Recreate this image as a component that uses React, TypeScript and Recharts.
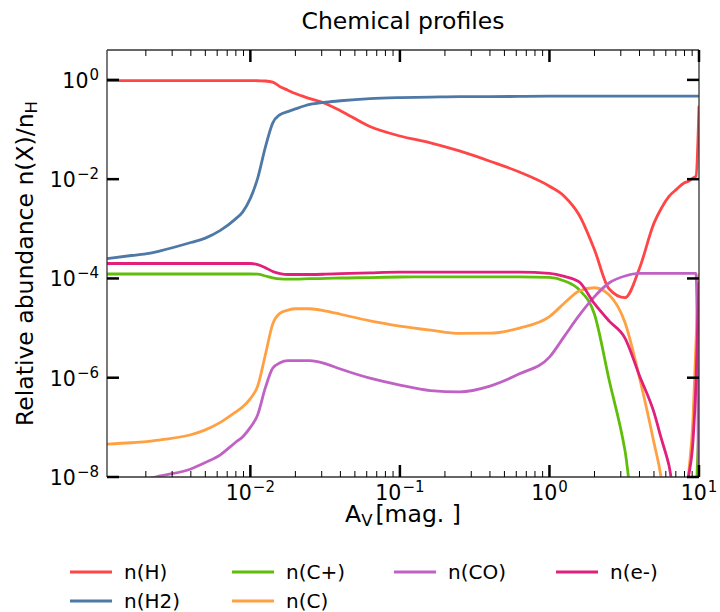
import { Label, Line, LineChart, XAxis, YAxis } from "recharts";

// visual extinction A_V [mag.]
const av = [1.1e-3, 1.6e-3, 2.1e-3, 2.5e-3, 4.0e-3, 5.0e-3, 6.3e-3, 7.9e-3, 8.9e-3, 0.01, 0.0112,
    0.0126, 0.0141, 0.0158, 0.0178, 0.02, 0.025, 0.032, 0.04, 0.063, 0.1,
    0.16, 0.25, 0.4, 0.63, 1, 1.26, 1.58, 2.0, 2.5, 3.2,
    4.0, 5.0, 5.6, 6.3, 7.1, 7.9, 8.5, 9.1, 9.55, 10]

const nH = [0.97, 0.97, 0.97, 0.97, 0.97, 0.97, 0.97, 0.97, 0.97, 0.97, 0.96,
    0.95, 0.9, 0.73, 0.62, 0.53, 0.42, 0.33, 0.24, 0.115, 0.074,
    0.054, 0.037, 0.023, 0.0139, 0.0072, 0.0045, 0.0019, 3.8e-4, 6.2e-5, 4.1e-5,
    1.6e-4, 1.3e-3, 2.6e-3, 4.5e-3, 6.3e-3, 8.3e-3, 9.1e-3, 0.0105, 0.0115, 0.30]

const nH2 = [2.5e-4, 2.9e-4, 3.2e-4, 3.6e-4, 5.3e-4, 6.5e-4, 9.3e-4, 1.55e-3, 2.2e-3, 4.1e-3, 0.0105,
    0.044, 0.135, 0.2, 0.23, 0.26, 0.32, 0.355, 0.38, 0.42, 0.44,
    0.45, 0.46, 0.46, 0.465, 0.47, 0.47, 0.47, 0.47, 0.47, 0.47,
    0.47, 0.47, 0.47, 0.47, 0.47, 0.47, 0.47, 0.47, 0.47, 0.47]

const nCp = [1.23e-4, 1.23e-4, 1.23e-4, 1.23e-4, 1.23e-4, 1.23e-4, 1.23e-4, 1.23e-4, 1.23e-4, 1.23e-4, 1.22e-4,
    1.12e-4, 1.03e-4, 9.8e-5, 9.7e-5, 9.7e-5, 9.9e-5, 1.0e-4, 1.02e-4, 1.04e-4, 1.07e-4,
    1.08e-4, 1.08e-4, 1.08e-4, 1.08e-4, 1.05e-4, 8.9e-5, 5.9e-5, 1.9e-5, 9.3e-7, 3.4e-8,
    3e-10, 3e-10, 3e-10, 3e-10, 3e-10, 3e-10, 3e-10, 3e-10, 3e-9, 1.3e-7]

const nC = [4.6e-8, 4.9e-8, 5.2e-8, 5.6e-8, 7.1e-8, 8.9e-8, 1.26e-7, 2.0e-7, 2.6e-7, 3.8e-7, 6.8e-7,
    2.9e-6, 1.2e-5, 2.0e-5, 2.3e-5, 2.45e-5, 2.45e-5, 2.2e-5, 1.9e-5, 1.4e-5, 1.1e-5,
    9.1e-6, 7.8e-6, 7.9e-6, 1.0e-5, 1.7e-5, 3.2e-5, 5.6e-5, 6.5e-5, 4.7e-5, 1.3e-5,
    1.0e-6, 4.9e-8, 9e-9, 3e-10, 3e-10, 3e-10, 1e-8, 1.3e-7, 5.2e-6, 1.26e-4]

const nCO = [5e-9, 7e-9, 9.3e-9, 1.05e-8, 1.45e-8, 1.95e-8, 2.8e-8, 4.9e-8, 6.5e-8, 1.0e-7, 1.8e-7,
    6.3e-7, 1.55e-6, 2.0e-6, 2.2e-6, 2.2e-6, 2.2e-6, 1.9e-6, 1.5e-6, 9.8e-7, 7.1e-7,
    5.5e-7, 5.2e-7, 6.8e-7, 1.2e-6, 2.6e-6, 6.9e-6, 1.8e-5, 4.3e-5, 8.1e-5, 1.12e-4,
    1.26e-4, 1.26e-4, 1.26e-4, 1.26e-4, 1.26e-4, 1.26e-4, 1.26e-4, 1.26e-4, 1.26e-4, 3e-10]

const nE = [2.0e-4, 2.0e-4, 2.0e-4, 2.0e-4, 2.0e-4, 2.0e-4, 2.0e-4, 2.0e-4, 2.0e-4, 2.0e-4, 1.9e-4,
    1.65e-4, 1.38e-4, 1.25e-4, 1.2e-4, 1.2e-4, 1.2e-4, 1.22e-4, 1.25e-4, 1.3e-4, 1.34e-4,
    1.34e-4, 1.34e-4, 1.34e-4, 1.34e-4, 1.27e-4, 1.1e-4, 8.5e-5, 3.1e-5, 1.4e-5, 6.3e-6,
    1.1e-6, 2.0e-7, 5.9e-8, 1.7e-8, 2.5e-9, 2.5e-9, 1.0e-8, 4.9e-8, 8.1e-7, 8.5e-5]

const xTicks = [0.002, 0.003, 0.004, 0.005, 0.006, 0.007, 0.008, 0.009, 0.01,
    0.02, 0.03, 0.04, 0.05, 0.06, 0.07, 0.08, 0.09, 0.1,
    0.2, 0.3, 0.4, 0.5, 0.6, 0.7, 0.8, 0.9, 1,
    2, 3, 4, 5, 6, 7, 8, 9, 10]
const yTicks = [1e-8, 1e-6, 1e-4, 1e-2, 1]

const series = [
    { key: "nH", name: "n(H)", color: "#ff4545" },
    { key: "nH2", name: "n(H2)", color: "#4e79a7" },
    { key: "nCp", name: "n(C+)", color: "#5fbe0a" },
    { key: "nC", name: "n(C)", color: "#ffa042" },
    { key: "nCO", name: "n(CO)", color: "#c062c4" },
    { key: "nE", name: "n(e-)", color: "#e0207a" },
]
// legend slots (column, row), filled column by column like matplotlib ncol=4
const legendSlots = [[0, 0], [0, 1], [1, 0], [1, 1], [2, 0], [3, 0]]

const rows = av.map((a, i) => ({ av: a, nH: nH[i], nH2: nH2[i], nCp: nCp[i], nC: nC[i], nCO: nCO[i], nE: nE[i] }))

const FONT = "'DejaVu Sans', sans-serif"

const isMajor = (v: number) => Math.abs(Math.log10(v) - Math.round(Math.log10(v))) < 1e-6
const expText = (v: number) => {
    const e = Math.round(Math.log10(v))
    return e < 0 ? `\u2212${-e}` : `${e}`
}

const BottomTick = ({ x, y, payload }: any) => {
    const major = isMajor(payload.value)
    return <g>
        <line x1={x} y1={y} x2={x} y2={y - (major ? 12 : 6)} stroke="#000" strokeWidth={major ? 2.5 : 1} />
        {major && <text x={x} y={y + 23} textAnchor="middle" fontSize={20.5} fontFamily={FONT} fill="#000">
            10<tspan dx={1} dy={-8} fontSize={15}>{expText(payload.value)}</tspan>
        </text>}
    </g>
}

const TopTick = ({ x, y, payload }: any) => {
    const major = isMajor(payload.value)
    return <line x1={x} y1={y} x2={x} y2={y + (major ? 12 : 6)} stroke="#000" strokeWidth={major ? 2.5 : 1} />
}

const LeftTick = ({ x, y, payload }: any) =>
    <g>
        <line x1={x} y1={y} x2={x + 12} y2={y} stroke="#000" strokeWidth={2.5} />
        <text x={x - 8} y={y + 8} textAnchor="end" fontSize={20.5} fontFamily={FONT} fill="#000">
            10<tspan dx={1} dy={-8} fontSize={15}>{expText(payload.value)}</tspan>
        </text>
    </g>

const RightTick = ({ x, y }: any) =>
    <line x1={x} y1={y} x2={x - 12} y2={y} stroke="#000" strokeWidth={2.5} />

const spine = { stroke: "#333", strokeWidth: 1.3 }

export default function App() {
    return <div>
        <style>{"body{margin:0}"}</style>
        <LineChart width={720} height={540} data={rows} margin={{ top: 49, right: 20, bottom: 3, left: 0 }}>
            <XAxis xAxisId="b" dataKey="av" type="number" scale="log" domain={[1.1e-3, 10]} allowDataOverflow
                ticks={xTicks} interval={0} tick={BottomTick} tickLine={false} tickSize={0} tickMargin={0}
                height={60} axisLine={spine}>
                <Label content={({ viewBox }: any) =>
                    <text x={viewBox.x + viewBox.width / 2} y={522} textAnchor="middle" fontSize={23.5} fontFamily={FONT} fill="#000">
                        A<tspan dy={4} fontSize={16.5}>V</tspan><tspan dx={3} dy={-4}>[mag. ]</tspan>
                    </text>} />
            </XAxis>
            <XAxis xAxisId="t" orientation="top" dataKey="av" type="number" scale="log" domain={[1.1e-3, 10]} allowDataOverflow
                ticks={xTicks} interval={0} tick={TopTick} tickLine={false} tickSize={0} tickMargin={0}
                height={1} axisLine={spine}>
                <Label content={({ viewBox }: any) =>
                    <text x={viewBox.x + viewBox.width / 2} y={29} textAnchor="middle" fontSize={23.5} fontFamily={FONT} fill="#000">
                        Chemical profiles
                    </text>} />
            </XAxis>
            <YAxis yAxisId="l" type="number" scale="log" domain={[1e-8, 4]} allowDataOverflow
                ticks={yTicks} interval={0} tick={LeftTick} tickLine={false} tickSize={0} tickMargin={0}
                width={107} axisLine={spine}>
                <Label content={({ viewBox }: any) => {
                    const cy = viewBox.y + viewBox.height / 2
                    return <text x={33} y={cy} transform={`rotate(-90, 33, ${cy})`} textAnchor="middle" fontSize={23.5} fontFamily={FONT} fill="#000">
                        Relative abundance n(X)/n<tspan dy={4} fontSize={16.5}>H</tspan>
                    </text>
                }} />
            </YAxis>
            <YAxis yAxisId="r" orientation="right" type="number" scale="log" domain={[1e-8, 4]} allowDataOverflow
                ticks={yTicks} interval={0} tick={RightTick} tickLine={false} tickSize={0} tickMargin={0}
                width={1} axisLine={spine} />
            {series.map(s =>
                <Line key={s.key} xAxisId="b" yAxisId="l" type="monotone" dataKey={s.key} name={s.name}
                    stroke={s.color} strokeWidth={2.8} dot={false} activeDot={false} isAnimationActive={false} />)}
        </LineChart>
        <svg width={720} height={72} style={{ display: "block" }}>
            {series.map((s, i) => {
                const [col, row] = legendSlots[i]
                const x0 = 70 + col * 162
                const cy = 32 + row * 29
                return <g key={s.key}>
                    <line x1={x0} y1={cy} x2={x0 + 42} y2={cy} stroke={s.color} strokeWidth={3} />
                    <text x={x0 + 54} y={cy + 7} fontSize={20} fontFamily={FONT} fill="#000">{s.name}</text>
                </g>
            })}
        </svg>
    </div>
}
